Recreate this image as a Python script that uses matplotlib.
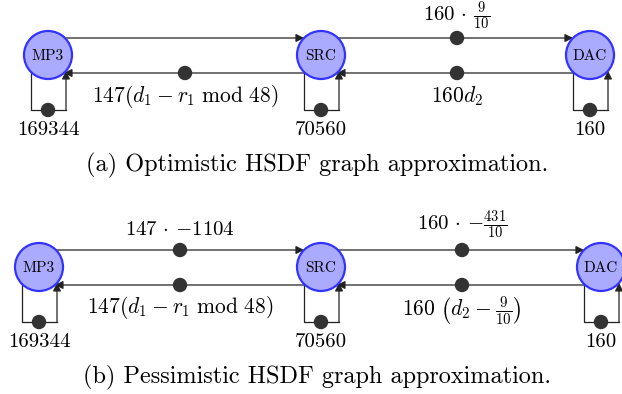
import math
import matplotlib
matplotlib.use("Agg")
import matplotlib.pyplot as plt
from matplotlib.patches import Circle, FancyArrowPatch

plt.rcParams['mathtext.fontset'] = 'cm'

# graph content
nodes = ["MP3", "SRC", "DAC"]
captions = ["(a) Optimistic HSDF graph approximation.",
            "(b) Pessimistic HSDF graph approximation."]
self_loop_labels = ["169344", "70560", "160"]
# forward edge labels (None = no token) and backward edge labels, per panel
fwd_labels = [[None, r"$160\,\cdot\,\frac{9}{10}$"],
              [r"$147\,\cdot\,{-}1104$", r"$160\,\cdot\,{-}\frac{431}{10}$"]]
bwd_labels = [[r"$147(d_1 - r_1\ \mathrm{mod}\ 48)$", r"$160d_2$"],
              [r"$147(d_1 - r_1\ \mathrm{mod}\ 48)$", r"$160\ \left(d_2 - \frac{9}{10}\right)$"]]

# layout in pixels
panel_x = [[48, 321, 590], [39, 321, 601]]
panel_y = [55, 267]
tok_x = [[185, 457], [180, 462]]
fwd_base = [[None, 21], [235, 230]]
bwd_base = [[102, 102], [313, 315]]
loop_base = [135, 347]
cap_base = [171, 383]
R = 24
LC = "#222222"
TOK = "#333333"

fig = plt.figure(figsize=(6.22, 3.94), dpi=100)
ax = fig.add_axes([0, 0, 1, 1])
ax.set_xlim(0, 622)
ax.set_ylim(394, 0)
ax.axis('off')


def cx(c, dy, side):
    return c + side * math.sqrt(R * R - dy * dy)


def arrow(p0, p1):
    ax.add_patch(FancyArrowPatch(p0, p1, arrowstyle='-|>', mutation_scale=12,
                                 color=LC, lw=0.9, shrinkA=0, shrinkB=0, zorder=2))


def token(x, y):
    ax.add_patch(Circle((x, y), 6.5, color=TOK, zorder=4))


for p in range(2):
    xs = panel_x[p]
    yc = panel_y[p]
    for i, name in enumerate(nodes):
        ax.add_patch(Circle((xs[i], yc), R, facecolor="#aaaaff", edgecolor="#3333ff",
                            lw=1.6, zorder=3))
        ax.text(xs[i], yc + 4.5, name, ha='center', va='baseline', fontsize=11,
                family='cmr10', zorder=5)
        # self loop
        xl, xr, yb = xs[i] - 17, xs[i] + 18, yc + 55
        yl = yc + math.sqrt(R * R - 17 ** 2)
        yr = yc + math.sqrt(R * R - 18 ** 2)
        ax.plot([xl, xl, xr], [yl, yb, yb], color=LC, lw=0.9, zorder=2)
        arrow((xr, yb), (xr, yr))
        token(xs[i], yb)
        ax.text(xs[i], loop_base[p], self_loop_labels[i], ha='center', va='baseline',
                fontsize=15, family='cmr10')
    for j in range(2):
        a, b = xs[j], xs[j + 1]
        yf, yk = yc - 17, yc + 18
        arrow((cx(a, -17, 1), yf), (cx(b, -17, -1), yf))
        arrow((cx(b, 18, -1), yk), (cx(a, 18, 1), yk))
        tx = tok_x[p][j]
        token(tx, yk)
        ax.text(tx, bwd_base[p][j], bwd_labels[p][j], ha='center', va='baseline',
                fontsize=15.5)
        if fwd_labels[p][j] is not None:
            token(tx, yf)
            ax.text(tx, fwd_base[p][j], fwd_labels[p][j], ha='center', va='baseline',
                    fontsize=15)
    ax.text(317, cap_base[p], captions[p], ha='center', va='baseline', fontsize=17.5,
            family='cmr10')

fig.savefig("out.png", dpi=100)
